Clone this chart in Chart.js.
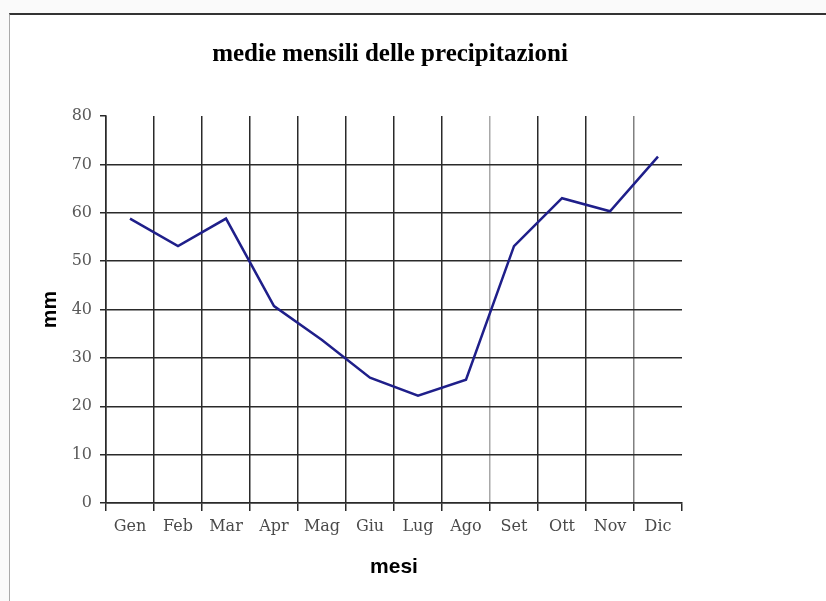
<!DOCTYPE html>
<html>
<head>
<meta charset="utf-8">
<script src="https://cdn.jsdelivr.net/npm/chart.js@4/dist/chart.umd.min.js"></script>
<style>
  html, body { margin: 0; padding: 0; background: #fafafa; }
  #wrap { position: relative; width: 826px; height: 601px; }
  #frame {
    position: absolute; left: 9px; top: 13px; right: 0; bottom: 0;
    background: #ffffff;
    border-top: 2px solid #333;
    border-left: 1px solid #aaa;
  }
  #chart { position: absolute; left: 0; top: 0; }
</style>
</head>
<body>
<div id="wrap">
  <div id="frame"></div>
  <canvas id="chart" width="826" height="601"></canvas>
</div>
<script>
// Monthly mean rainfall (mm)
const months = ['Gen', 'Feb', 'Mar', 'Apr', 'Mag', 'Giu', 'Lug', 'Ago', 'Set', 'Ott', 'Nov', 'Dic'];
const rainfall = [58.8, 53.1, 58.8, 40.7, 33.7, 25.9, 22.2, 25.5, 53.1, 63.0, 60.3, 71.6];
const yTicks = [0, 10, 20, 30, 40, 50, 60, 70, 80];
const chartTitle = 'medie mensili delle precipitazioni';

const gridDark = '#2a2a2a';

// Title drawn at a fixed spot above the plot
const titlePlugin = {
  id: 'fixedTitle',
  afterDraw(chart) {
    const ctx = chart.ctx;
    ctx.save();
    ctx.fillStyle = '#000';
    ctx.font = 'bold 25px "Liberation Serif"';
    ctx.textAlign = 'center';
    ctx.textBaseline = 'middle';
    ctx.fillText(chartTitle, 390, 55);
    ctx.restore();
  }
};

new Chart(document.getElementById('chart'), {
  type: 'line',
  data: {
    labels: months,
    datasets: [{
      data: rainfall,
      borderColor: '#1f1f8a',
      borderWidth: 2.5,
      pointRadius: 0,
      tension: 0,
      fill: false
    }]
  },
  plugins: [titlePlugin],
  options: {
    responsive: false,
    animation: false,
    layout: { padding: { left: 0, right: 144, top: 116, bottom: 0 } },
    plugins: {
      legend: { display: false },
      tooltip: { enabled: false },
      title: { display: false }
    },
    scales: {
      x: {
        type: 'category',
        offset: true,
        afterFit: (s) => { s.height = 98; },
        grid: {
          offset: true,
          color: (ctx) => {
            if (ctx.index === undefined || ctx.index === 12) return 'rgba(0,0,0,0)';
            if (ctx.index === 8) return '#a8a8a8';
            if (ctx.index === 11) return '#808080';
            return gridDark;
          },
          tickColor: gridDark,
          lineWidth: 1.5,
          tickLength: 8
        },
        border: { display: true, color: gridDark, width: 1.5 },
        ticks: {
          color: '#4a4a4a',
          padding: 6,
          font: { family: 'DejaVu Serif', size: 16 }
        },
        title: {
          display: true,
          text: 'mesi',
          color: '#000',
          font: { family: 'Liberation Sans', size: 21, weight: 'bold' },
          padding: { top: 0, bottom: 21 }
        }
      },
      y: {
        min: 0,
        max: 80,
        afterFit: (s) => { s.width = 106; },
        afterBuildTicks: (s) => { s.ticks = yTicks.map(v => ({ value: v })); },
        grid: {
          color: (ctx) => (ctx.tick && ctx.tick.value === 80) ? 'rgba(0,0,0,0)' : gridDark,
          tickColor: gridDark,
          lineWidth: 1.5,
          tickLength: 6
        },
        border: { display: true, color: gridDark, width: 1.5 },
        ticks: {
          color: '#5a5a5a',
          padding: 8,
          font: { family: 'DejaVu Serif', size: 16 }
        },
        title: {
          display: true,
          text: 'mm',
          color: '#000',
          font: { family: 'Liberation Sans', size: 21, weight: 'bold' },
          padding: { top: 38, bottom: 0 }
        }
      }
    }
  }
});
</script>
</body>
</html>
